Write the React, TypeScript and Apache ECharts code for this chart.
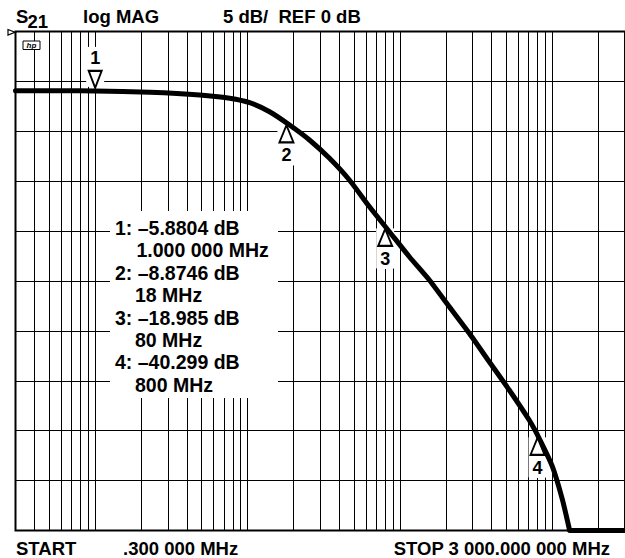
import React, { useEffect, useRef } from 'react';
import * as echarts from 'echarts';

// Trace of S21 (frequency in MHz, magnitude in dB)
const freqMHz = [0.3, 0.6, 1, 2.28, 4.85, 7.63, 10.32, 13.95, 18.87, 25.5, 34.5, 46.6, 63.1, 85.3, 115.3, 155.9, 210.9, 285.2, 385.6, 521.4, 705, 820, 1002, 1165, 1289, 1300, 3000];
const s21dB = [-5.93, -5.93, -5.95, -6.09, -6.36, -6.69, -7.13, -8.04, -9.37, -10.87, -12.71, -14.88, -17.56, -20.06, -22.57, -24.9, -27.58, -30.24, -33.09, -35.92, -38.93, -40.76, -43.6, -46.9, -49.75, -50, -50];

// Vertical graticule positions (MHz)
const gridFreqMHz = [0.4, 0.5, 0.6, 0.7, 0.8, 0.9, 1, 2, 3, 4, 5, 6, 7, 8, 9, 10, 20, 30, 40, 50, 60, 70, 80, 90, 100, 200, 300, 400, 500, 600, 700, 800, 900, 1000, 2000];

// Markers
const markerFreqMHz = [1, 18, 80, 800];
const markerDb = [-5.95, -9.15, -19.53, -40.46];
const markerNames = ['1', '2', '3', '4'];
const readoutValues = ['–5.8804 dB', '–8.8746 dB', '–18.985 dB', '–40.299 dB'];
const readoutFreqs = ['1.000 000 MHz', '18 MHz', '80 MHz', '800 MHz'];

// Header / footer texts
const channelLabel = 'S';
const channelSub = '21';
const formatLabel = 'log MAG';
const scaleLabel = '5 dB/  REF 0 dB';
const startLabel = 'START';
const startValue = '.300 000 MHz';
const stopLabel = 'STOP 3 000.000 000 MHz';

const FONT = '"Liberation Sans", Arial, Helvetica, sans-serif';

function txt(x: number, y: number, text: string, size: number, align: string = 'left', z = 6) {
  return {
    type: 'text',
    x,
    y,
    z,
    silent: true,
    style: {
      text,
      fontFamily: FONT,
      fontSize: size,
      fontWeight: 'bold',
      fill: '#000',
      align,
      verticalAlign: 'middle',
    },
  };
}

export default function App() {
  const ref = useRef<HTMLDivElement>(null);

  useEffect(() => {
    if (!ref.current) return;
    const chart = echarts.init(ref.current, undefined, { renderer: 'svg' });

    const trace = freqMHz.map((f, i) => [f, s21dB[i]]);
    const refMarker = [[markerFreqMHz[0], markerDb[0]]];
    const deltaMarkers = markerFreqMHz.slice(1).map((f, i) => [f, markerDb[i + 1]]);

    const readoutGraphics: any[] = [];
    const lineH = 22.4;
    readoutValues.forEach((v, i) => {
      readoutGraphics.push(txt(115, 228 + i * 2 * lineH, `${markerNames[i]}: ${v}`, 19.5));
      readoutGraphics.push(txt(i === 0 ? 136.5 : 135, 228 + (i * 2 + 1) * lineH, readoutFreqs[i], 19.5));
    });

    const labelStyle = {
      show: true,
      fontFamily: FONT,
      fontSize: 18,
      fontWeight: 'bold',
      color: '#000',
      opacity: 1,
      backgroundColor: '#fff',
      padding: [1, 3],
    };

    chart.setOption({
      animation: false,
      backgroundColor: '#fff',
      grid: {
        left: 15.5,
        top: 31.5,
        width: 610.5,
        height: 499,
        show: true,
        borderColor: '#000',
        borderWidth: 2,
        backgroundColor: '#fff',
      },
      xAxis: {
        type: 'log',
        logBase: 10,
        min: 0.3,
        max: 3000,
        axisLine: { show: false },
        axisTick: { show: false },
        axisLabel: { show: false },
        splitLine: { show: false },
      },
      yAxis: {
        type: 'value',
        min: -50,
        max: 0,
        interval: 5,
        axisLine: { show: false },
        axisTick: { show: false },
        axisLabel: { show: false },
        splitLine: { show: true, lineStyle: { color: '#000', width: 1 } },
      },
      series: [
        {
          type: 'line',
          name: 'graticule',
          data: [],
          z: 1,
          silent: true,
          markLine: {
            silent: true,
            z: 1,
            symbol: ['none', 'none'],
            label: { show: false },
            lineStyle: { color: '#000', width: 1, type: 'solid' },
            emphasis: { disabled: true },
            data: gridFreqMHz.map((f) => ({ xAxis: f })),
          },
        },
        {
          type: 'scatter',
          name: 'refMask',
          data: refMarker,
          symbol: 'rect',
          symbolSize: [18, 40],
          symbolOffset: [0, -24],
          itemStyle: { color: '#fff', opacity: 1 },
          silent: true,
          z: 4,
        },
        {
          type: 'scatter',
          name: 'deltaMask',
          data: deltaMarkers,
          symbol: 'rect',
          symbolSize: [18, 40],
          symbolOffset: [0, 22],
          itemStyle: { color: '#fff', opacity: 1 },
          silent: true,
          z: 4,
        },
        {
          type: 'line',
          name: 'S21',
          data: trace,
          symbol: 'none',
          smooth: 0.2,
          clip: false,
          lineStyle: { color: '#000', width: 5, cap: 'round', join: 'round' },
          silent: true,
          z: 10,
        },
        {
          type: 'scatter',
          name: 'refMarker',
          data: refMarker,
          symbol: 'path://M0,0L14,0L7,16Z',
          symbolSize: [13, 17],
          symbolOffset: [0, -11.5],
          itemStyle: { color: '#fff', borderColor: '#000', borderWidth: 2, opacity: 1 },
          label: { ...labelStyle, position: 'top', distance: 2, formatter: () => markerNames[0] },
          silent: true,
          z: 11,
        },
        {
          type: 'scatter',
          name: 'deltaMarkers',
          data: deltaMarkers,
          symbol: 'path://M7,0L14,16L0,16Z',
          symbolSize: [14, 17],
          symbolOffset: [0, 11],
          itemStyle: { color: '#fff', borderColor: '#000', borderWidth: 2, opacity: 1 },
          label: { ...labelStyle, position: 'bottom', distance: 2, formatter: (p: any) => markerNames[p.dataIndex + 1] },
          silent: true,
          z: 11,
        },
      ],
      graphic: [
        txt(16, 16, channelLabel, 18.5, 'left', 20),
        txt(27.5, 21, channelSub, 18.5, 'left', 20),
        txt(83, 16, formatLabel, 18.5, 'left', 20),
        txt(223, 16, scaleLabel, 18.5, 'left', 20),
        txt(16, 548, startLabel, 18.5, 'left', 20),
        txt(123, 548, startValue, 18.5, 'left', 20),
        txt(610, 548, stopLabel, 18.5, 'right', 20),
        {
          type: 'polygon',
          z: 20,
          silent: true,
          shape: { points: [[8, 29.5], [15, 32.2], [8, 35]] },
          style: { fill: '#fff', stroke: '#000', lineWidth: 1.2 },
        },
        {
          type: 'rect',
          z: 20,
          silent: true,
          shape: { x: 23, y: 41, width: 17, height: 8.5 },
          style: { fill: '#fff', stroke: '#000', lineWidth: 1 },
        },
        {
          type: 'text',
          x: 31.5,
          y: 45.3,
          z: 21,
          silent: true,
          style: {
            text: 'hp',
            fontFamily: FONT,
            fontSize: 8,
            fontWeight: 'bold',
            fontStyle: 'italic',
            fill: '#000',
            align: 'center',
            verticalAlign: 'middle',
          },
        },
        {
          type: 'rect',
          z: 5,
          silent: true,
          shape: { x: 110, y: 211, width: 168, height: 187 },
          style: { fill: '#fff' },
        },
        ...readoutGraphics,
      ],
    });

    return () => {
      chart.dispose();
    };
  }, []);

  return (
    <div
      ref={ref}
      style={{ position: 'fixed', left: 0, top: 0, width: 625, height: 558, background: '#fff' }}
    />
  );
}
